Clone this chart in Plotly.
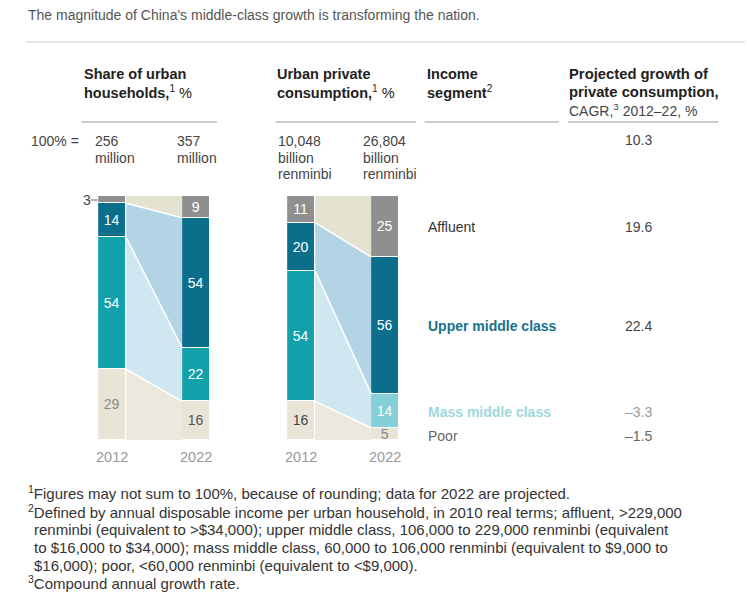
import plotly.graph_objects as go

W, H = 747, 597

# ---------------- data ----------------
segments = ["Poor", "Mass middle class", "Upper middle class", "Affluent"]  # bottom -> top
years = ["2012", "2022"]
households_2012 = [29, 54, 14, 3]
households_2022 = [16, 22, 54, 9]
consumption_2012 = [16, 54, 20, 11]
consumption_2022 = [5, 14, 56, 25]
households_base = [["256", "million"], ["357", "million"]]
consumption_base = [["10,048", "billion", "renminbi"], ["26,804", "billion", "renminbi"]]
cagr_total = "10.3"
cagr_values = ["–1.5", "–3.3", "22.4", "19.6"]  # same order as segments

# ---------------- styles ----------------
FONT = "Liberation Sans, Arial, Helvetica, sans-serif"
seg_colors = ["#e8e5d6", "#12a0ab", "#0b6f8c", "#8f8f8f"]
conn_colors = ["#ebe9dd", "#cfe7f0", "#b3d4e5", "#e4e2d1"]
BW = 1 / 3

fig = go.Figure()


def stacked(values12, values22, xa, ya, label_colors, hide_first_affluent=False, bar_colors=None):
    t12, t22 = sum(values12), sum(values22)
    n12 = [v / t12 * 100 for v in values12]
    n22 = [v / t22 * 100 for v in values22]
    c12, c22 = [0], [0]
    for a, b in zip(n12, n22):
        c12.append(c12[-1] + a)
        c22.append(c22[-1] + b)
    # connectors
    for i in range(len(segments)):
        fig.add_trace(go.Scatter(
            x=[BW / 2, 1 - BW / 2, 1 - BW / 2, BW / 2, BW / 2],
            y=[c12[i], c22[i], c22[i + 1], c12[i + 1], c12[i]],
            fill="toself", fillcolor=conn_colors[i], mode="none",
            xaxis=xa, yaxis=ya, showlegend=False, hoverinfo="skip"))
    for i in range(1, len(segments)):
        fig.add_trace(go.Scatter(
            x=[BW / 2, 1 - BW / 2], y=[c12[i], c22[i]], mode="lines",
            line=dict(color="white", width=1.5),
            xaxis=xa, yaxis=ya, showlegend=False, hoverinfo="skip"))
    # bars
    for i, seg in enumerate(segments):
        texts = [str(values12[i]), str(values22[i])]
        if hide_first_affluent and i == 3:
            texts[0] = ""
        colors = bar_colors[i] if bar_colors else [seg_colors[i]] * 2
        fig.add_trace(go.Bar(
            x=[0, 1], y=[n12[i], n22[i]], width=BW, name=seg,
            marker=dict(color=colors, line=dict(color="white", width=1)),
            text=texts, textposition="inside", insidetextanchor="middle",
            textangle=0, constraintext="none",
            textfont=dict(family=FONT, size=14, color=label_colors[i]),
            xaxis=xa, yaxis=ya, showlegend=False, hoverinfo="skip"))
    return c12, c22


stacked(households_2012, households_2022, "x", "y",
        [["#8a8a8a", "#555555"], ["white", "white"], ["white", "white"], ["white", "white"]],
        hide_first_affluent=True)
stacked(consumption_2012, consumption_2022, "x2", "y2",
        [["#444444", "#888888"], ["white", "white"], ["white", "white"], ["white", "white"]],
        bar_colors=[[seg_colors[0]] * 2, [seg_colors[1], "#84cfd8"],
                    [seg_colors[2]] * 2, [seg_colors[3]] * 2])


def px(x):
    return x / W


def py(y):
    return 1 - y / H


y_dom = [py(440), py(196)]
xr = [-BW / 2, 1 + BW / 2]
axis_common = dict(range=xr, tickvals=[0, 1], ticktext=years, showgrid=False, zeroline=False,
                   showline=False, ticks="outside", ticklen=4, tickcolor="rgba(0,0,0,0)",
                   tickfont=dict(family=FONT, size=14.5, color="#999999"), fixedrange=True)
fig.update_layout(
    width=W, height=H, margin=dict(l=0, r=0, t=0, b=0),
    paper_bgcolor="white", plot_bgcolor="white",
    barmode="stack", bargap=0, showlegend=False, hovermode=False,
    uniformtext=dict(minsize=14, mode="show"),
    xaxis=dict(domain=[px(96.7), px(209.3)], anchor="y", **axis_common),
    yaxis=dict(domain=y_dom, range=[0, 100], visible=False, fixedrange=True),
    xaxis2=dict(domain=[px(286.7), px(399.3)], anchor="y2", **axis_common),
    yaxis2=dict(domain=y_dom, range=[0, 100], visible=False, fixedrange=True),
)

anns = []


def ann(text, x, y, size=14, color="#444444", xanchor="left"):
    anns.append(dict(text=text, x=px(x), y=py(y), xref="paper", yref="paper",
                     xanchor=xanchor, yanchor="middle", showarrow=False,
                     font=dict(family=FONT, size=size, color=color)))


# title
ann("The magnitude of China's middle-class growth is transforming the nation.", 24, 15, 14, "#555555")

# headers
HC = "#222222"
ann("<b>Share of urban</b>", 80, 74, 14.5, HC)
ann("<b>households,</b><sup>1</sup> %", 80, 92, 14.5, HC)
ann("<b>Urban private</b>", 274, 74, 14.5, HC)
ann("<b>consumption,</b><sup>1</sup> %", 274, 92, 14.5, HC)
ann("<b>Income</b>", 425, 74, 14.5, HC)
ann("<b>segment</b><sup>2</sup>", 425, 92, 14.5, HC)
ann("<b>Projected growth of</b>", 568, 74, 14.8, HC)
ann("<b>private consumption,</b>", 568, 92, 14.8, HC)
ann("CAGR,<sup>3</sup> 2012–22, %", 568, 110, 14, "#444444")

# base totals
ann("100% =", 27, 141, 14, "#444444")
for i, xpos in enumerate([91, 174]):
    for j, t in enumerate(households_base[i]):
        ann(t, xpos, 141 + 16.5 * j, 14, "#444444")
for i, xpos in enumerate([275, 361]):
    for j, t in enumerate(consumption_base[i]):
        ann(t, xpos, 141 + 16.5 * j, 14, "#444444")
ann(cagr_total, 656, 140, 14, "#444444", "right")

# income segments + CAGR
seg_style = {
    "Affluent": (227, "#333333", False, "#444444"),
    "Upper middle class": (326, "#16718b", True, "#444444"),
    "Mass middle class": (412, "#9dd8de", True, "#9a9a9a"),
    "Poor": (436, "#666666", False, "#666666"),
}
for seg, val in zip(segments, cagr_values):
    yy, col, bold, vcol = seg_style[seg]
    ann(f"<b>{seg}</b>" if bold else seg, 426, yy, 14, col)
    ann(val, 656, yy, 14, vcol, "right")

# small "3" label for affluent 2012
ann("3", 85, 200, 14, "#444444", "center")

# footnotes
FC = "#333333"
foot = [
    (24, 493, "<sup>1</sup>Figures may not sum to 100%, because of rounding; data for 2022 are projected."),
    (24, 511, "<sup>2</sup>Defined by annual disposable income per urban household, in 2010 real terms; affluent, >229,000"),
    (30, 529, "renminbi (equivalent to >$34,000); upper middle class, 106,000 to 229,000 renminbi (equivalent"),
    (30, 547, "to $16,000 to $34,000); mass middle class, 60,000 to 106,000 renminbi (equivalent to $9,000 to"),
    (30, 565, "$16,000); poor, <60,000 renminbi (equivalent to <$9,000)."),
    (24, 582, "<sup>3</sup>Compound annual growth rate."),
]
for x0, y0, t in foot:
    ann(t, x0, y0, 15, FC)

fig.update_layout(annotations=anns)

# rules
shapes = [dict(type="line", xref="paper", yref="paper", x0=px(24), x1=1, y0=py(42), y1=py(42),
               line=dict(color="#e6e6e6", width=2))]
for a, b in [(80, 216), (275, 416), (425, 560), (569, 720)]:
    shapes.append(dict(type="line", xref="paper", yref="paper", x0=px(a), x1=px(b),
                       y0=py(122), y1=py(122), line=dict(color="#999999", width=1)))
shapes.append(dict(type="line", xref="paper", yref="paper", x0=px(89), x1=px(96),
                   y0=py(200), y1=py(200), line=dict(color="#666666", width=1)))
fig.update_layout(shapes=shapes)

fig.write_html("out.html")
